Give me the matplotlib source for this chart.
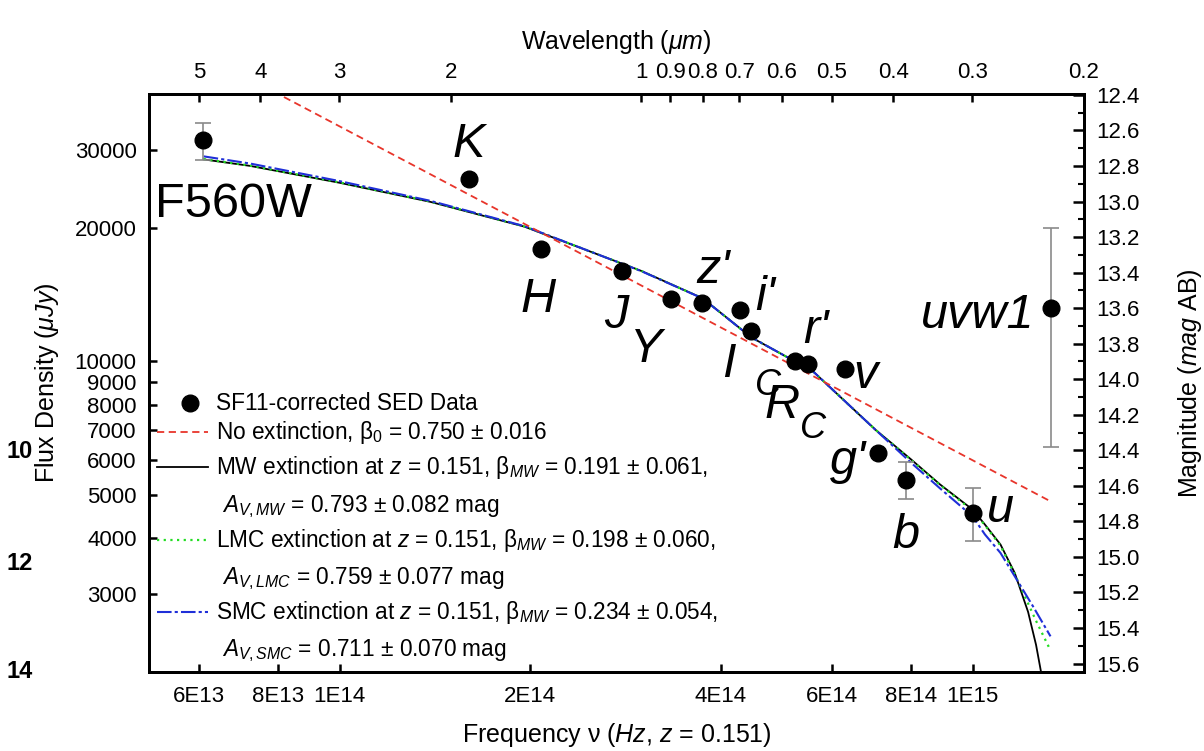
import numpy as np
import matplotlib
matplotlib.use("Agg")
import matplotlib.pyplot as plt
from matplotlib.ticker import FixedLocator, FixedFormatter, NullLocator

# ======================================================
# DATA
# ======================================================
bands = ["F560W", "K", "H", "J", "Y", "z'", "i'", "Ic", "Rc", "r'", "v", "g'", "b", "u", "uvw1"]
nu_obs = [6.09e13, 1.602e14, 2.082e14, 2.796e14, 3.344e14, 3.744e14, 4.284e14, 4.475e14,
          5.243e14, 5.492e14, 6.279e14, 7.09e14, 7.845e14, 1.0e15, 1.328e15]
flux_obs = [31460, 25700, 17940, 15970, 13790, 13510, 13090, 11700,
            10015, 9845, 9594, 6228, 5424, 4563, 13210]
flux_err = [3000, 0, 0, 0, 0, 0, 0, 0, 0, 0, 0, 0, 525, 620, 6800]

# no extinction power law (straight in log-log)
nu_noext = [5.0e13, 1.33e15]
f_noext = [56950, 4838]

# MW extinction
nu_mw = [6.1e13, 7.22e13, 1.0e14, 1.39e14, 1.958e14, 2.997e14, 3.744e14, 4.475e14, 5.243e14,
         5.492e14, 7.018e14, 8.0e14, 8.885e14, 1.0e15, 1.046e15, 1.107e15, 1.166e15,
         1.224e15, 1.260e15, 1.283e15, 1.302e15]
f_mw = [28500, 27560, 25250, 22880, 20120, 15990, 13880, 11325, 10000,
        9745, 7028, 6016, 5287, 4642, 4295, 3873, 3341,
        2730, 2301, 2000, 1730]

# LMC extinction
nu_lmc = [6.1e13, 7.22e13, 1.0e14, 1.39e14, 1.958e14, 2.997e14, 3.744e14, 4.475e14, 5.243e14,
          5.492e14, 7.018e14, 8.0e14, 8.885e14, 1.0e15, 1.046e15, 1.107e15, 1.166e15,
          1.258e15, 1.326e15]
f_lmc = [28550, 27600, 25300, 22920, 20140, 15990, 13880, 11325, 10000,
         9745, 7028, 6000, 5270, 4620, 4280, 3850, 3320,
         2619, 2246]

# SMC extinction
nu_smc = [6.1e13, 7.22e13, 1.0e14, 1.39e14, 1.958e14, 2.997e14, 3.744e14, 4.475e14, 5.243e14,
          5.492e14, 7.018e14, 8.0e14, 8.885e14, 1.0e15, 1.046e15, 1.107e15, 1.166e15,
          1.246e15, 1.328e15]
f_smc = [28950, 27900, 25470, 23000, 20170, 15970, 13870, 11325, 10000,
         9745, 7028, 5913, 5180, 4482, 4080, 3707, 3284,
         2811, 2406]

x_ticks = [6e13, 8e13, 1e14, 2e14, 4e14, 6e14, 8e14, 1e15]
x_ticklabels = ["6E13", "8E13", "1E14", "2E14", "4E14", "6E14", "8E14", "1E15"]
y_ticks = [3000, 4000, 5000, 6000, 7000, 8000, 9000, 10000, 20000, 30000]
wl_ticks = [5, 4, 3, 2, 1, 0.9, 0.8, 0.7, 0.6, 0.5, 0.4, 0.3, 0.2]
wl_ticklabels = ["5", "4", "3", "2", "1", "0.9", "0.8", "0.7", "0.6", "0.5", "0.4", "0.3", "0.2"]
mag_ticks = [12.4, 12.6, 12.8, 13.0, 13.2, 13.4, 13.6, 13.8, 14.0, 14.2, 14.4, 14.6, 14.8, 15.0, 15.2, 15.4, 15.6]

XLIM = (5e13, 1.5e15)
YLIM = (2000, 40000)
C_UM = 2.998e14  # speed of light in micron/s

# ======================================================
# STYLE
# ======================================================
plt.rcParams["font.family"] = ["Liberation Sans", "DejaVu Sans"]
plt.rcParams["mathtext.fontset"] = "custom"
plt.rcParams["mathtext.rm"] = "Liberation Sans"
plt.rcParams["mathtext.it"] = "Liberation Sans:italic"
plt.rcParams["mathtext.bf"] = "Liberation Sans:bold"

W, H = 1204, 751
AX_L, AX_R, AX_T, AX_B = 149, 1084, 94, 672
TICK_FS = 16
LABEL_FS = 18
LEG_FS = 16.3
BAND_FS = 35

RED = "#e8352b"
GREEN = "#22dd22"
BLUE = "#1f2fd8"
LS_RED = (0, (4, 2.5))
LS_GREEN = (0, (1, 2))
LS_BLUE = (0, (7, 1.5, 1.5, 1.5))


def frac(px, py):
    """pixel position -> axes fraction"""
    return (px - AX_L) / (AX_R - AX_L), (AX_B - py) / (AX_B - AX_T)


fig = plt.figure(figsize=(W / 100, H / 100), dpi=100)
ax = fig.add_axes([AX_L / W, 1 - AX_B / H, (AX_R - AX_L) / W, (AX_B - AX_T) / H])
ax.set_xscale("log")
ax.set_yscale("log")
ax.set_xlim(*XLIM)
ax.set_ylim(*YLIM)

# --- model curves ---
ax.plot(nu_mw, f_mw, color="black", lw=1.3, zorder=3)
ax.plot(nu_lmc, f_lmc, color=GREEN, lw=1.6, ls=LS_GREEN, zorder=4)
ax.plot(nu_smc, f_smc, color=BLUE, lw=1.5, ls=LS_BLUE, zorder=5)
ax.plot(nu_noext, f_noext, color=RED, lw=1.3, ls=LS_RED, zorder=6)

# --- data ---
nu_arr = np.array(nu_obs)
f_arr = np.array(flux_obs)
e_arr = np.array(flux_err)
m = e_arr > 0
ax.errorbar(nu_arr[m], f_arr[m], yerr=e_arr[m], fmt="none", ecolor="#8a8a8a",
            elinewidth=1.2, capsize=6, capthick=1.2, zorder=7)
ax.plot(nu_arr, f_arr, "o", color="black", ms=12, zorder=8)

# --- axes styling ---
for s in ax.spines.values():
    s.set_linewidth(2.0)
ax.xaxis.set_major_locator(FixedLocator(x_ticks))
ax.xaxis.set_major_formatter(FixedFormatter(x_ticklabels))
ax.xaxis.set_minor_locator(NullLocator())
ax.yaxis.set_major_locator(FixedLocator(y_ticks))
ax.yaxis.set_major_formatter(FixedFormatter([str(v) for v in y_ticks]))
ax.yaxis.set_minor_locator(NullLocator())
ax.tick_params(axis="both", which="major", direction="in", length=6, width=1.8,
               labelsize=TICK_FS, pad=9, top=False, right=False)
ax.tick_params(axis="x", pad=10)
ax.set_xlabel(r"Frequency ν ($Hz$, $z$ = 0.151)", fontsize=LABEL_FS, labelpad=10)
ax.set_ylabel(r"Flux Density ($μJy$)", fontsize=LABEL_FS, labelpad=10)

# right: AB magnitude
ax_r = ax.twinx()
ax_r.set_ylim(23.9 - 2.5 * np.log10(YLIM[0]), 23.9 - 2.5 * np.log10(YLIM[1]))
ax_r.yaxis.set_major_locator(FixedLocator(mag_ticks))
ax_r.yaxis.set_major_formatter(FixedFormatter([f"{v:.1f}" for v in mag_ticks]))
ax_r.yaxis.set_minor_locator(FixedLocator(np.round(np.array(mag_ticks[:-1]) + 0.1, 2)))
ax_r.tick_params(axis="y", which="major", direction="in", length=8, width=1.8,
                 labelsize=TICK_FS, pad=9)
ax_r.tick_params(axis="y", which="minor", direction="in", length=4.5, width=1.5)
ax_r.set_ylabel(r"Magnitude ($mag$ AB)", fontsize=LABEL_FS, labelpad=26)

# top: wavelength
ax_t = ax.twiny()
ax_t.set_xscale("log")
ax_t.set_xlim(C_UM / XLIM[0], C_UM / XLIM[1])
ax_t.xaxis.set_major_locator(FixedLocator(wl_ticks))
ax_t.xaxis.set_major_formatter(FixedFormatter(wl_ticklabels))
ax_t.xaxis.set_minor_locator(NullLocator())
ax_t.tick_params(axis="x", which="major", direction="in", length=6, width=1.8,
                 labelsize=TICK_FS, pad=8)
ax_t.set_xlabel(r"Wavelength ($μm$)", fontsize=LABEL_FS, labelpad=9)
for a in (ax_r, ax_t):
    for s in a.spines.values():
        s.set_linewidth(2.0)

# --- band labels ---
band_text = [
    ("F560W", 155, 217, "normal", BAND_FS),
    ("K", 453, 157, "italic", BAND_FS),
    ("H", 520, 312, "italic", BAND_FS),
    ("J", 604, 328, "italic", BAND_FS),
    ("Y", 630, 362, "italic", BAND_FS),
    ("z'", 696, 283, "italic", BAND_FS),
    ("i'", 755, 310, "italic", BAND_FS),
    ("I", 722, 377, "italic", BAND_FS),
    ("C", 755, 395, "italic", 26),
    ("R", 765, 418, "italic", BAND_FS),
    ("C", 800, 438, "italic", 26),
    ("r'", 803, 343, "italic", BAND_FS),
    ("v", 853, 388, "italic", BAND_FS),
    ("g'", 830, 474, "italic", BAND_FS),
    ("b", 892, 548, "italic", BAND_FS),
    ("u", 987, 522, "italic", BAND_FS),
    ("uvw1", 921, 328, "italic", BAND_FS),
]
for txt, px, py, style, fs in band_text:
    fx, fy = frac(px, py)
    ax.text(fx, fy, txt, transform=ax.transAxes, fontsize=fs, style=style,
            ha="left", va="baseline", zorder=9)

# --- legend (drawn by hand to keep the two-line entries) ---
hx0, hx1 = frac(157, 0)[0], frac(208, 0)[0]
tx = frac(216, 0)[0]
tx2 = frac(222, 0)[0]
ax.plot([frac(190, 0)[0]], [frac(0, 403)[1]], "o", color="black", ms=12,
        transform=ax.transAxes, clip_on=False)
leg_lines = [
    (432, dict(color=RED, lw=1.3, ls=LS_RED)),
    (467, dict(color="black", lw=1.3, ls="-")),
    (540, dict(color=GREEN, lw=1.6, ls=LS_GREEN)),
    (612, dict(color=BLUE, lw=1.5, ls=LS_BLUE)),
]
for py, kw in leg_lines:
    yy = frac(0, py)[1]
    ax.plot([hx0, hx1], [yy, yy], transform=ax.transAxes, **kw)

leg_text = [
    (tx, 403, "SF11-corrected SED Data"),
    (tx, 432, "No extinction, β$_0$ = 0.750 ± 0.016"),
    (tx, 467, "MW extinction at $z$ = 0.151, β$_{MW}$ = 0.191 ± 0.061,"),
    (tx2, 505, "$A_{V,MW}$ = 0.793 ± 0.082 mag"),
    (tx, 540, "LMC extinction at $z$ = 0.151, β$_{MW}$ = 0.198 ± 0.060,"),
    (tx2, 577, "$A_{V,LMC}$ = 0.759 ± 0.077 mag"),
    (tx, 612, "SMC extinction at $z$ = 0.151, β$_{MW}$ = 0.234 ± 0.054,"),
    (tx2, 649, "$A_{V,SMC}$ = 0.711 ± 0.070 mag"),
]
for x0, py, txt in leg_text:
    ax.text(x0, frac(0, py + 7)[1], txt, transform=ax.transAxes, fontsize=LEG_FS,
            ha="left", va="baseline")

# stray labels at the far left
for txt, py in [("10", 452), ("12", 563), ("14", 672)]:
    fig.text(20 / W, 1 - py / H, txt, fontsize=17, fontweight="bold", ha="center", va="center")

fig.savefig("out.png", dpi=100)
